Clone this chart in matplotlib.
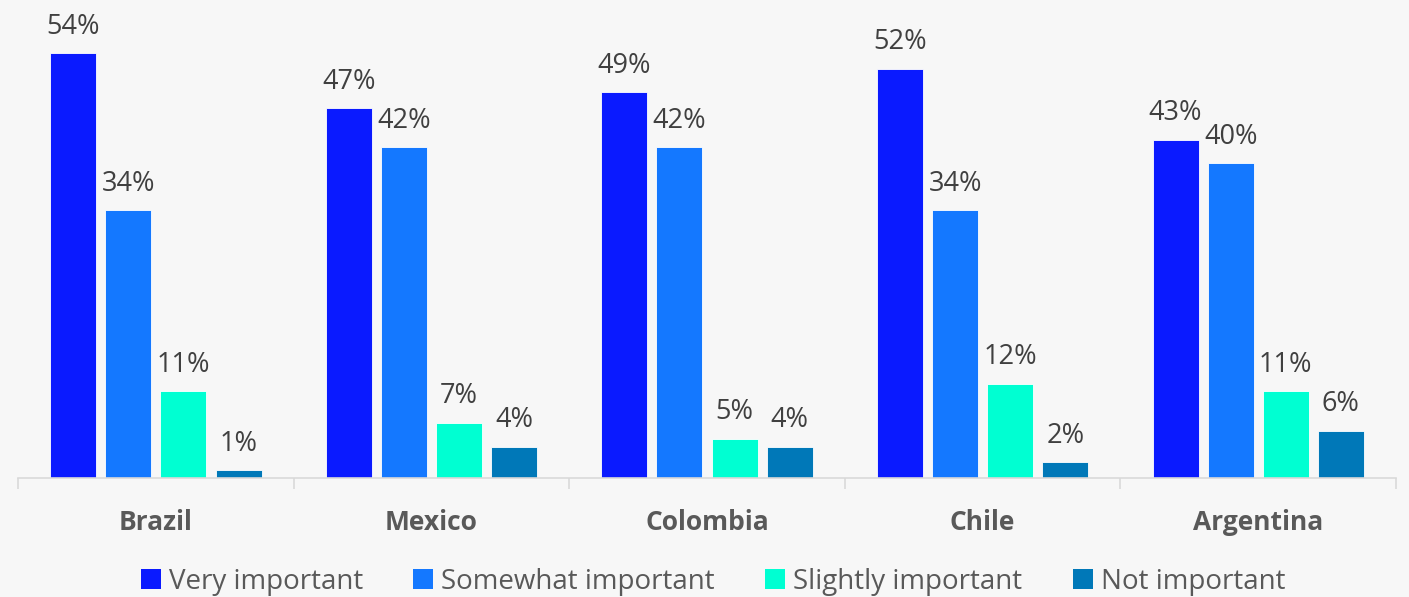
import numpy as np
import matplotlib.pyplot as plt
from matplotlib.patches import Patch

plt.rcParams['font.family'] = ['Open Sans', 'DejaVu Sans']

countries = ['Brazil', 'Mexico', 'Colombia', 'Chile', 'Argentina']
series = ['Very important', 'Somewhat important', 'Slightly important', 'Not important']
very = [54, 47, 49, 52, 43]
somewhat = [34, 42, 42, 34, 40]
slightly = [11, 7, 5, 12, 11]
not_imp = [1, 4, 4, 2, 6]
colors = ['#0A1AFF', '#1478FF', '#00FFD2', '#0078B8']

values = [very, somewhat, slightly, not_imp]

fig = plt.figure(figsize=(14.09, 5.97), dpi=100, facecolor='#F7F7F7')
ax = fig.add_axes([0.0128, 0.1993, 0.978, 0.791])
ax.set_facecolor('#F7F7F7')

x = np.arange(len(countries))
w = 0.2
for i, (vals, c) in enumerate(zip(values, colors)):
    pos = x + (i - 1.5) * w
    ax.bar(pos, vals, width=0.167, color=c, edgecolor='#FFFFFF', linewidth=0.6)
    for p, v in zip(pos, vals):
        ax.annotate(f'{v}%', (p, v), xytext=(0, 9), textcoords='offset points',
                    ha='center', va='bottom', fontsize=19.5, color='#404040')

ax.set_xlim(-0.5, len(countries) - 0.5)
ax.set_ylim(0, 60)
ax.set_yticks([])
for s in ['top', 'right', 'left']:
    ax.spines[s].set_visible(False)
ax.spines['bottom'].set_color('#D9D9D9')
ax.spines['bottom'].set_linewidth(1.2)

# group separators as major ticks, country names on minor ticks
ax.set_xticks(np.arange(-0.5, len(countries)), minor=False)
ax.set_xticklabels([])
ax.tick_params(axis='x', length=8, color='#D9D9D9', width=1.2)
ax.set_xticks(x, minor=True)
ax.set_xticklabels(countries, minor=True, fontsize=19, fontweight='bold', color='#595959')
ax.tick_params(axis='x', which='minor', length=0, pad=22)

handles = [Patch(facecolor=c, label=s) for c, s in zip(colors, series)]
fig.legend(handles=handles, loc='lower center', bbox_to_anchor=(0.506, -0.04), ncol=4,
           frameon=False, fontsize=20, handlelength=0.72, handleheight=0.72,
           handletextpad=0.3, columnspacing=1.8, labelcolor='#595959')

fig.savefig('out.png', dpi=100, facecolor=fig.get_facecolor())
